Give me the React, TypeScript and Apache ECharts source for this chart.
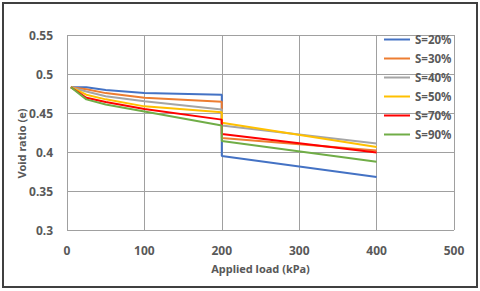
import React, { useEffect, useRef } from "react";
import * as echarts from "echarts";

const loads = [5, 25, 50, 100, 200, 200, 400];
const seriesNames = ["S=20%", "S=30%", "S=40%", "S=50%", "S=70%", "S=90%"];
const s20 = [0.483, 0.483, 0.4795, 0.4755, 0.4735, 0.395, 0.368];
const s30 = [0.483, 0.4805, 0.4755, 0.4695, 0.4645, 0.418, 0.402];
const s40 = [0.483, 0.4775, 0.4715, 0.465, 0.4545, 0.434, 0.411];
const s50 = [0.483, 0.4735, 0.4675, 0.4585, 0.451, 0.4375, 0.4065];
const s70 = [0.483, 0.4695, 0.464, 0.455, 0.4415, 0.423, 0.3995];
const s90 = [0.483, 0.4675, 0.461, 0.452, 0.434, 0.414, 0.3875];
const seriesValues = [s20, s30, s40, s50, s70, s90];
const colors = ["#4472C4", "#ED7D31", "#A5A5A5", "#FFC000", "#FF0000", "#70AD47"];

export default function App() {
  const ref = useRef<HTMLDivElement>(null);
  useEffect(() => {
    if (!ref.current) return;
    const chart = echarts.init(ref.current, null, { renderer: "svg" });
    const font = "'Noto Sans', sans-serif";
    chart.setOption({
      animation: false,
      backgroundColor: "#ffffff",
      color: colors,
      grid: { left: 67, right: 26, top: 35, bottom: 61 },
      graphic: [
        {
          type: "rect",
          shape: { x: 3, y: 3, width: 474, height: 284 },
          style: { fill: "none", stroke: "#404040", lineWidth: 2 },
          silent: true,
        },
      ],
      legend: {
        orient: "vertical",
        left: 379,
        top: 27,
        icon: "rect",
        itemWidth: 26,
        itemHeight: 2,
        itemGap: 4,
        data: seriesNames,
        textStyle: {
          color: "#595959",
          fontSize: 11.5,
          fontWeight: "bold",
          fontFamily: font,
          lineHeight: 15,
        },
      },
      xAxis: {
        type: "value",
        min: 0,
        max: 500,
        interval: 100,
        name: "Applied load (kPa)",
        nameLocation: "middle",
        nameGap: 33,
        nameMoveOverlap: false,
        nameTextStyle: { color: "#595959", fontSize: 11, fontWeight: "bold", fontFamily: font },
        axisLine: { show: false },
        axisTick: { show: false },
        axisLabel: { color: "#595959", fontSize: 12, fontWeight: "bold", fontFamily: font, margin: 14 },
        splitLine: { show: true, lineStyle: { color: "#a0a0a0", width: 1 } },
      },
      yAxis: {
        type: "value",
        min: 0.3,
        max: 0.55,
        interval: 0.05,
        name: "Void ratio (e)",
        nameLocation: "middle",
        nameGap: 40,
        nameMoveOverlap: false,
        nameTextStyle: {
          color: "#595959",
          fontSize: 11,
          fontWeight: "bold",
          fontFamily: font,
          padding: [0, 22, 0, 0],
        },
        axisLine: { show: false },
        axisTick: { show: false },
        axisLabel: {
          color: "#595959",
          fontSize: 12,
          fontWeight: "bold",
          fontFamily: font,
          margin: 14,
          formatter: (v: number) => String(parseFloat(v.toFixed(2))),
        },
        splitLine: { show: true, lineStyle: { color: "#a0a0a0", width: 1 } },
      },
      series: seriesNames.map((n, i) => ({
        name: n,
        type: "line",
        symbol: "none",
        lineStyle: { width: 2, color: colors[i] },
        itemStyle: { color: colors[i] },
        data: loads.map((x, j) => [x, seriesValues[i][j]]),
      })),
    });
    return () => chart.dispose();
  }, []);
  return (
    <div
      ref={ref}
      style={{ position: "fixed", left: 0, top: 0, width: 480, height: 291 }}
    />
  );
}
